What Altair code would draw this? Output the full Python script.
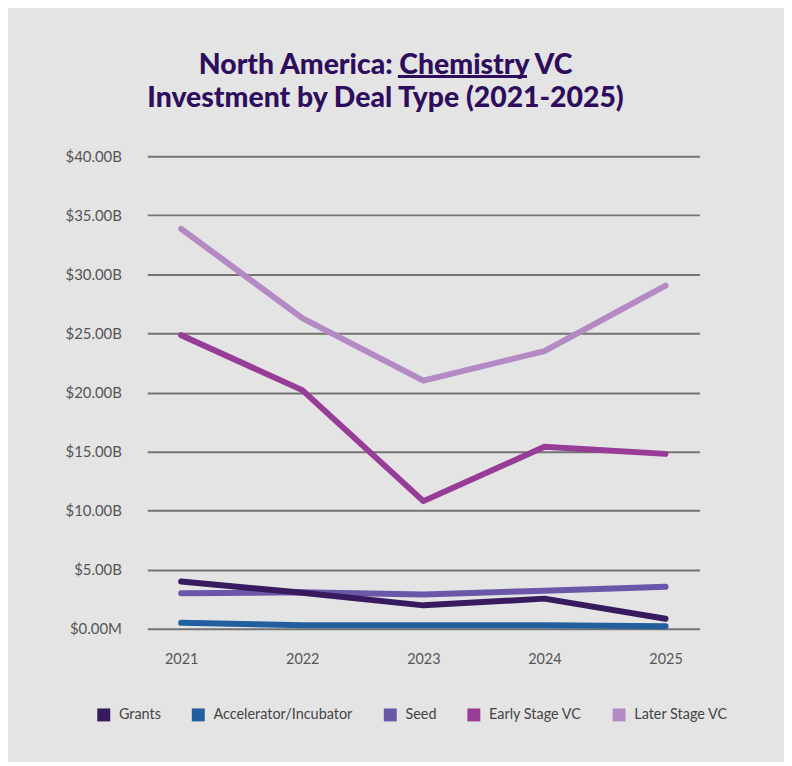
import altair as alt
import pandas as pd

years = ["2021", "2022", "2023", "2024", "2025"]
series_names = ["Grants", "Accelerator/Incubator", "Seed", "Early Stage VC", "Later Stage VC"]
series_colors = ["#371b5e", "#215f9f", "#6a57a8", "#973d98", "#b48ac4"]

grants = [4.0, 3.05, 1.98, 2.55, 0.85]
accelerator = [0.5, 0.3, 0.3, 0.3, 0.22]
seed = [3.0, 3.08, 2.9, 3.22, 3.55]
early_stage = [24.85, 20.2, 10.8, 15.4, 14.8]
later_stage = [33.85, 26.3, 21.0, 23.5, 29.05]
y_ticks = [0, 5, 10, 15, 20, 25, 30, 35, 40]

# drawing order: Grants last (on top)
draw_order = [
    ("Later Stage VC", later_stage),
    ("Early Stage VC", early_stage),
    ("Seed", seed),
    ("Accelerator/Incubator", accelerator),
    ("Grants", grants),
]
rows = []
for i, (name, vals) in enumerate(draw_order):
    for y, v in zip(years, vals):
        rows.append({"Year": y, "Value": v, "Series": name, "order": i})
df = pd.DataFrame(rows)

title_color = "#2e0d5c"
label_color = "#555555"
FONT = "Lato"

lines = alt.Chart(df).mark_line(strokeWidth=6, strokeCap="round", strokeJoin="round").encode(
    x=alt.X("Year:N", sort=years,
            scale=alt.Scale(type="point", padding=0.28),
            axis=alt.Axis(title=None, labelAngle=0, domain=False, ticks=False, grid=False,
                          labelPadding=24, labelFontSize=14.5, labelColor=label_color, labelFont=FONT)),
    y=alt.Y("Value:Q", scale=alt.Scale(domain=[0, 40], nice=False),
            axis=alt.Axis(title=None, values=y_ticks, domain=False, ticks=False, grid=True,
                          gridColor="#737373", gridWidth=2, labelPadding=26,
                          labelFontSize=15, labelColor=label_color, labelFont=FONT,
                          labelExpr="datum.value == 0 ? '$0.00M' : '$' + format(datum.value, '.2f') + 'B'")),
    color=alt.Color("Series:N", scale=alt.Scale(domain=series_names, range=series_colors),
                    legend=alt.Legend(title=None, orient="none", direction="horizontal",
                                      legendX=-51, legendY=554, symbolType="square",
                                      symbolSize=36, symbolStrokeWidth=7, symbolOpacity=1,
                                      labelFontSize=14.5, labelColor="#444444", labelFont=FONT,
                                      labelOffset=8, columnPadding=20)),
    detail="order:N",
    order="order:Q",
)

underline = alt.Chart(df).mark_rule(color=title_color, strokeWidth=1.5).encode(
    x=alt.value(252), x2=alt.value(381), y=alt.value(-80)
)

chart = alt.layer(lines, underline).properties(
    width=555,
    height=475,
    padding={"left": 140, "top": 147, "right": 85, "bottom": 132},
    autosize=alt.AutoSizeParams(type="none"),
    background="#e4e4e4",
    title=alt.Title(["North America: Chemistry VC", "Investment by Deal Type (2021-2025)"],
                    font=FONT, fontSize=28.5, fontWeight=900, color=title_color,
                    anchor="middle", dx=-38, offset=0, dy=37, lineHeight=33),
).configure_view(stroke=None)

chart.save("out.html", embed_options={"renderer": "svg", "actions": False})
